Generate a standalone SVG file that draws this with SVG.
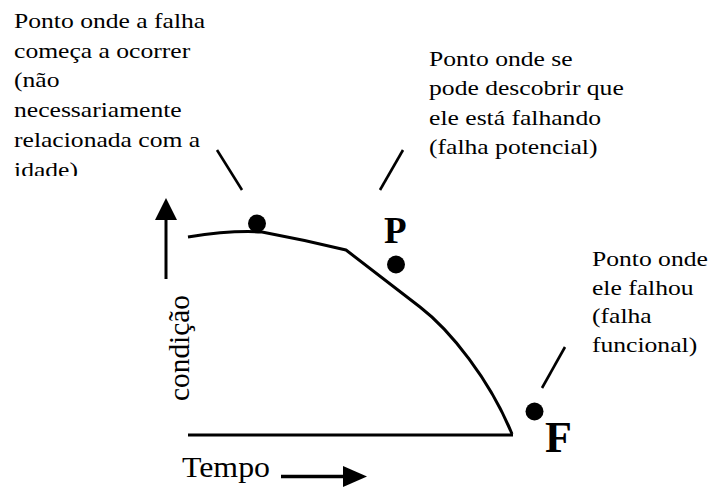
<svg xmlns="http://www.w3.org/2000/svg" width="711" height="488" viewBox="0 0 711 488" font-family="'Liberation Serif', serif">
  <style>
    .stroke { fill: none; stroke: #000; stroke-width: 3; stroke-linecap: butt; stroke-linejoin: round; }
    .leader { fill: none; stroke: #000; stroke-width: 2.6; }
    .dot { fill: #000; }
  </style>
  <defs>
    <clipPath id="clipTop">
      <rect x="0" y="0" width="300" height="176"/>
    </clipPath>
  </defs>
  <rect width="711" height="488" fill="#fff"/>

  <g id="axes">
    <line class="stroke" x1="166" y1="279" x2="166" y2="218"/>
    <polygon points="166,198 155,220 177,220" fill="#000"/>
    <line class="stroke" x1="188" y1="435" x2="513" y2="435"/>
    <line x1="281" y1="476.5" x2="345" y2="476.5" stroke="#000" stroke-width="3.5"/>
    <polygon points="343,466 343,487 367,476.5" fill="#000"/>
    <text x="182" y="477" font-family="'Liberation Serif', serif" font-size="29.5" textLength="88" lengthAdjust="spacingAndGlyphs">Tempo</text>
    <text transform="translate(189,401) rotate(-90)" font-family="'Liberation Serif', serif" font-size="29.5" textLength="106" lengthAdjust="spacingAndGlyphs">condição</text>
  </g>

  <g id="curve">
    <path class="stroke" d="M188,237 Q232,230 262,232 Q305,240 346,250 L420,307 C450,330 490,380 512,434"/>
  </g>

  <g id="connectors">
    <line class="leader" x1="217" y1="150" x2="242" y2="190"/>
    <line class="leader" x1="403" y1="150" x2="380" y2="190"/>
    <line class="leader" x1="565" y1="347" x2="542" y2="388"/>
  </g>

  <g id="point-start">
    <circle class="dot" cx="257" cy="223.5" r="9"/>
  </g>

  <g id="point-P">
    <circle class="dot" cx="396" cy="264.5" r="9"/>
    <text x="384" y="243" font-family="'Liberation Serif', serif" font-weight="bold" font-size="37">P</text>
  </g>

  <g id="point-F">
    <circle class="dot" cx="534.5" cy="411.5" r="9"/>
    <text x="545" y="452" font-family="'Liberation Serif', serif" font-weight="bold" font-size="44">F</text>
  </g>

  <g id="note-start" clip-path="url(#clipTop)">
    <g transform="scale(1.18,1)" font-family="'Liberation Serif', serif" font-size="21.7">
      <text x="11.9" y="27.7">Ponto onde a falha</text>
      <text x="11.9" y="57.6">começa a ocorrer</text>
      <text x="11.9" y="87.5">(não</text>
      <text x="11.9" y="117.4">necessariamente</text>
      <text x="11.9" y="147.3">relacionada com a</text>
      <text x="11.9" y="177.2">idade)</text>
    </g>
  </g>

  <g id="note-potential">
    <g transform="scale(1.18,1)" font-family="'Liberation Serif', serif" font-size="21.7">
      <text x="363.6" y="66">Ponto onde se</text>
      <text x="363.6" y="95.5">pode descobrir que</text>
      <text x="363.6" y="125">ele está falhando</text>
      <text x="363.6" y="154.5">(falha potencial)</text>
    </g>
  </g>

  <g id="note-functional">
    <g transform="scale(1.18,1)" font-family="'Liberation Serif', serif" font-size="21.7">
      <text x="501.7" y="266.5">Ponto onde</text>
      <text x="501.7" y="295">ele falhou</text>
      <text x="501.7" y="323.5">(falha</text>
      <text x="501.7" y="352">funcional)</text>
    </g>
  </g>
</svg>
